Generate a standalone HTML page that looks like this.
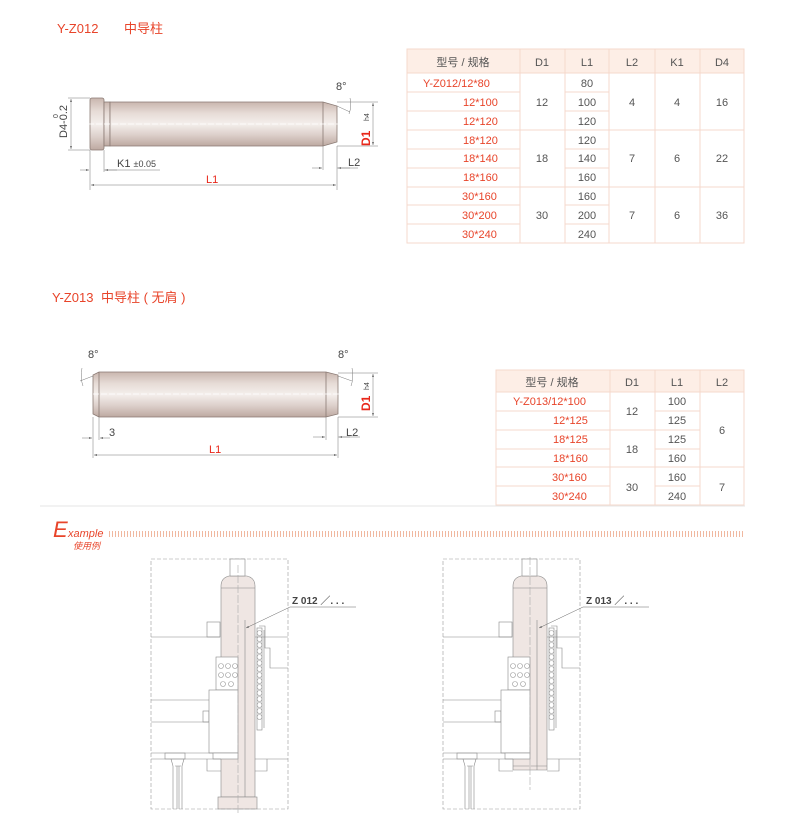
<!DOCTYPE html>
<html><head><meta charset="utf-8"><style>
body{margin:0;background:#fff;width:790px;height:832px;overflow:hidden}
text{font-family:"Liberation Sans","Noto Sans CJK SC",sans-serif}
</style></head><body>
<svg width="790" height="832" viewBox="0 0 790 832" xmlns="http://www.w3.org/2000/svg">
<defs>
<linearGradient id="pg" x1="0" y1="0" x2="0" y2="1">
<stop offset="0" stop-color="#c9b6ae"/><stop offset="0.25" stop-color="#e6dbd6"/><stop offset="0.5" stop-color="#f4efec"/><stop offset="0.75" stop-color="#dccfca"/><stop offset="1" stop-color="#bda9a1"/>
</linearGradient>
<marker id="ar" markerWidth="6" markerHeight="4" refX="6" refY="2" orient="auto-start-reverse"><path d="M0,0 L6,2 L0,4z" fill="#666"/></marker>
</defs>

<!-- Titles -->
<text x="57" y="33" font-size="13" fill="#e8442a">Y-Z012</text>
<text x="124" y="33" font-size="13" fill="#e8442a">中导柱</text>
<text x="52" y="302" font-size="13" fill="#e8442a">Y-Z013</text>
<text x="101" y="302" font-size="13" fill="#e8442a">中导柱 ( 无肩 )</text>

<!-- Pin 1 -->
<g stroke="#8a7a74" stroke-width="0.8">
<rect x="90" y="98" width="14" height="52" rx="2" fill="url(#pg)"/>
<rect x="104" y="102" width="6" height="44" fill="url(#pg)"/>
<path d="M110,102 H323 L337,106 V142 L323,146 H110z" fill="url(#pg)"/>
<line x1="323" y1="102" x2="323" y2="146"/>
</g>
<line x1="80" y1="124" x2="345" y2="124" stroke="#fff" stroke-width="0.8" stroke-dasharray="6,2"/>
<g stroke="#777" stroke-width="0.5" fill="none">
<line x1="68" y1="98" x2="90" y2="98"/><line x1="68" y1="150" x2="90" y2="150"/>
<line x1="71" y1="99" x2="71" y2="149" marker-start="url(#ar)" marker-end="url(#ar)"/>
<line x1="337" y1="102" x2="378" y2="102"/><line x1="337" y1="146" x2="378" y2="146"/>
<line x1="373" y1="103" x2="373" y2="145" marker-start="url(#ar)" marker-end="url(#ar)"/>
<line x1="337" y1="106" x2="350" y2="112"/>
<path d="M350,98 Q352,106 349,114"/>
<line x1="90" y1="150" x2="90" y2="190"/><line x1="104" y1="150" x2="104" y2="172"/>
<line x1="323" y1="146" x2="323" y2="170"/><line x1="337" y1="146" x2="337" y2="190"/>
<line x1="80" y1="170" x2="89" y2="170" marker-end="url(#ar)"/><line x1="117" y1="170" x2="105" y2="170" marker-end="url(#ar)"/><line x1="104" y1="170" x2="160" y2="170"/>
<line x1="312" y1="168" x2="322" y2="168" marker-end="url(#ar)"/><line x1="350" y1="168" x2="338" y2="168" marker-end="url(#ar)"/><line x1="337" y1="168" x2="358" y2="168"/>
<line x1="91" y1="185" x2="336" y2="185" marker-start="url(#ar)" marker-end="url(#ar)"/>
</g>
<text x="336" y="90" font-size="11" fill="#444">8°</text>
<text transform="translate(67,138) rotate(-90)" font-size="11" fill="#444">D4-0.2</text>
<text transform="translate(58,118) rotate(-90)" font-size="7" fill="#444">0</text>
<text transform="translate(370,146) rotate(-90)" font-size="12" fill="#e8271a" font-weight="bold">D1</text>
<text transform="translate(369,121) rotate(-90)" font-size="7" fill="#444">h4</text>
<text x="117" y="167" font-size="11" fill="#444">K1 <tspan font-size="9">±0.05</tspan></text>
<text x="348" y="166" font-size="11" fill="#444">L2</text>
<text x="206" y="183" font-size="11" fill="#e8271a">L1</text>

<!-- Pin 2 -->
<g stroke="#8a7a74" stroke-width="0.8">
<path d="M99,372 H326 L338,375 V414 L326,417 H99 L93,414 V375z" fill="url(#pg)"/>
<line x1="99" y1="372" x2="99" y2="417"/><line x1="326" y1="372" x2="326" y2="417"/>
</g>
<line x1="85" y1="394" x2="345" y2="394" stroke="#fff" stroke-width="0.8" stroke-dasharray="6,2"/>
<g stroke="#777" stroke-width="0.5" fill="none">
<line x1="338" y1="373" x2="378" y2="373"/><line x1="338" y1="417" x2="378" y2="417"/>
<line x1="373" y1="374" x2="373" y2="416" marker-start="url(#ar)" marker-end="url(#ar)"/>
<line x1="338" y1="376" x2="352" y2="381"/><path d="M352,368 Q354,378 351,386"/>
<line x1="93" y1="376" x2="80" y2="381"/><path d="M82,368 Q80,378 83,386"/>
<line x1="93" y1="417" x2="93" y2="458"/><line x1="99" y1="417" x2="99" y2="440"/>
<line x1="326" y1="417" x2="326" y2="440"/><line x1="338" y1="417" x2="338" y2="458"/>
<line x1="82" y1="438" x2="92" y2="438" marker-end="url(#ar)"/><line x1="110" y1="438" x2="100" y2="438" marker-end="url(#ar)"/>
<line x1="313" y1="437" x2="325" y2="437" marker-end="url(#ar)"/><line x1="350" y1="437" x2="339" y2="437" marker-end="url(#ar)"/><line x1="338" y1="437" x2="360" y2="437"/>
<line x1="94" y1="455" x2="337" y2="455" marker-start="url(#ar)" marker-end="url(#ar)"/>
</g>
<text x="88" y="358" font-size="11" fill="#444">8°</text>
<text x="338" y="358" font-size="11" fill="#444">8°</text>
<text transform="translate(370,411) rotate(-90)" font-size="12" fill="#e8271a" font-weight="bold">D1</text>
<text transform="translate(369,390) rotate(-90)" font-size="7" fill="#444">h4</text>
<text x="109" y="436" font-size="11" fill="#444">3</text>
<text x="346" y="436" font-size="11" fill="#444">L2</text>
<text x="209" y="453" font-size="11" fill="#e8271a">L1</text>

<!-- Table 1 -->
<rect x="407" y="49" width="337" height="24" fill="#fdeee6"/>
<g stroke="#f5d9cc" stroke-width="1" fill="none">
<rect x="407" y="49" width="337" height="194"/>
<line x1="407" y1="73" x2="744" y2="73"/>
<line x1="520" y1="49" x2="520" y2="243"/><line x1="565" y1="49" x2="565" y2="243"/><line x1="609" y1="49" x2="609" y2="243"/><line x1="655" y1="49" x2="655" y2="243"/><line x1="700" y1="49" x2="700" y2="243"/>
<line x1="407" y1="92" x2="520" y2="92"/><line x1="565" y1="92" x2="609" y2="92"/>
<line x1="407" y1="111" x2="520" y2="111"/><line x1="565" y1="111" x2="609" y2="111"/>
<line x1="407" y1="130" x2="744" y2="130"/>
<line x1="407" y1="149" x2="520" y2="149"/><line x1="565" y1="149" x2="609" y2="149"/>
<line x1="407" y1="168" x2="520" y2="168"/><line x1="565" y1="168" x2="609" y2="168"/>
<line x1="407" y1="187" x2="744" y2="187"/>
<line x1="407" y1="205" x2="520" y2="205"/><line x1="565" y1="205" x2="609" y2="205"/>
<line x1="407" y1="224" x2="520" y2="224"/><line x1="565" y1="224" x2="609" y2="224"/>
</g>
<g font-size="11" fill="#555" text-anchor="middle">
<text x="463" y="66">型号 / 规格</text><text x="542" y="66">D1</text><text x="587" y="66">L1</text><text x="632" y="66">L2</text><text x="677" y="66">K1</text><text x="722" y="66">D4</text>
<text x="587" y="87">80</text><text x="587" y="106">100</text><text x="587" y="125">120</text>
<text x="587" y="144">120</text><text x="587" y="162">140</text><text x="587" y="181">160</text>
<text x="587" y="200">160</text><text x="587" y="219">200</text><text x="587" y="238">240</text>
<text x="542" y="106">12</text><text x="542" y="162">18</text><text x="542" y="219">30</text>
<text x="632" y="106">4</text><text x="632" y="162">7</text><text x="632" y="219">7</text>
<text x="677" y="106">4</text><text x="677" y="162">6</text><text x="677" y="219">6</text>
<text x="722" y="106">16</text><text x="722" y="162">22</text><text x="722" y="219">36</text>
</g>
<g font-size="11" fill="#e8442a">
<text x="423" y="87">Y-Z012/12*80</text>
<text x="463" y="106">12*100</text><text x="463" y="125">12*120</text>
<text x="463" y="144">18*120</text><text x="463" y="162">18*140</text><text x="463" y="181">18*160</text>
<text x="462" y="200">30*160</text><text x="462" y="219">30*200</text><text x="462" y="238">30*240</text>
</g>

<!-- Table 2 -->
<rect x="496" y="370" width="248" height="22" fill="#fdeee6"/>
<g stroke="#f5d9cc" stroke-width="1" fill="none">
<rect x="496" y="370" width="248" height="135"/>
<line x1="496" y1="392" x2="744" y2="392"/>
<line x1="610" y1="370" x2="610" y2="505"/><line x1="655" y1="370" x2="655" y2="505"/><line x1="700" y1="370" x2="700" y2="505"/>
<line x1="496" y1="411" x2="610" y2="411"/><line x1="655" y1="411" x2="700" y2="411"/>
<line x1="496" y1="430" x2="700" y2="430"/>
<line x1="496" y1="449" x2="610" y2="449"/><line x1="655" y1="449" x2="700" y2="449"/>
<line x1="496" y1="467" x2="744" y2="467"/>
<line x1="496" y1="486" x2="610" y2="486"/><line x1="655" y1="486" x2="700" y2="486"/>
</g>
<g font-size="11" fill="#555" text-anchor="middle">
<text x="552" y="386">型号 / 规格</text><text x="632" y="386">D1</text><text x="677" y="386">L1</text><text x="722" y="386">L2</text>
<text x="677" y="405">100</text><text x="677" y="424">125</text><text x="677" y="443">125</text><text x="677" y="462">160</text><text x="677" y="481">160</text><text x="677" y="500">240</text>
<text x="632" y="415">12</text><text x="632" y="453">18</text><text x="632" y="491">30</text>
<text x="722" y="434">6</text><text x="722" y="491">7</text>
</g>
<g font-size="11" fill="#e8442a">
<text x="513" y="405">Y-Z013/12*100</text>
<text x="553" y="424">12*125</text><text x="553" y="443">18*125</text><text x="553" y="462">18*160</text>
<text x="552" y="481">30*160</text><text x="552" y="500">30*240</text>
</g>

<line x1="40" y1="506" x2="745" y2="506" stroke="#e6e6e6" stroke-width="1"/>

<!-- Example header -->
<text x="53" y="537" font-size="22" font-style="italic" fill="#e8442a">E</text>
<text x="68" y="537" font-size="11" font-style="italic" fill="#e8442a">xample</text>
<text x="73" y="549" font-size="9" font-style="italic" fill="#e8442a">使用例</text>
<line x1="109" y1="534" x2="745" y2="534" stroke="#f0b8a0" stroke-width="6" stroke-dasharray="1,2"/>

<!-- left pin -->
<g stroke="#888" stroke-width="0.6">
<path d="M221,797 V586 Q221,578 229,576 H247 Q255,578 255,586 V797z" fill="#efe6e3"/>
<line x1="221" y1="588" x2="255" y2="588"/>
<rect x="218" y="797" width="39" height="12" fill="#efe6e3"/>
<line x1="245" y1="620" x2="245" y2="797"/>
</g>
<!-- right pin -->
<g stroke="#888" stroke-width="0.6">
<path d="M513,770 V586 Q513,578 521,576 H539 Q547,578 547,586 V770z" fill="#efe6e3"/>
<line x1="513" y1="588" x2="547" y2="588"/>
<line x1="513" y1="766" x2="547" y2="766"/>
<line x1="537" y1="620" x2="537" y2="770"/>
</g>

<!-- Mold diagrams -->
<defs>
<g id="mold" fill="none" stroke="#888" stroke-width="0.6">
<rect x="151" y="559" width="137" height="250" stroke-dasharray="4,2" stroke="#999"/>
<rect x="230" y="559" width="15" height="17" fill="#fff"/>
<line x1="151" y1="637" x2="220" y2="637"/><line x1="255" y1="637" x2="288" y2="637"/>
<rect x="207" y="622" width="13" height="15"/>
<path d="M259,626 H265 V648 H270 V668 H288"/>
<line x1="151" y1="700" x2="209" y2="700"/><line x1="151" y1="722" x2="209" y2="722"/>
<rect x="203" y="711" width="6" height="11"/>
<rect x="216" y="657" width="22" height="33" fill="#fff"/>
<g stroke="#999"><circle cx="221" cy="666" r="2.5"/><circle cx="228" cy="666" r="2.5"/><circle cx="235" cy="666" r="2.5"/><circle cx="221" cy="675" r="2.5"/><circle cx="228" cy="675" r="2.5"/><circle cx="235" cy="675" r="2.5"/><circle cx="223" cy="684" r="2.5"/><circle cx="231" cy="684" r="2.5"/></g>
<rect x="209" y="690" width="29" height="63" fill="#fff"/>
<rect x="213" y="753" width="25" height="6" fill="#fff"/>
<line x1="151" y1="753" x2="213" y2="753"/>
<line x1="151" y1="759" x2="221" y2="759"/><line x1="255" y1="759" x2="288" y2="759"/>
<path d="M207,759 V771 H221 M255,771 H267 V759"/>
<path d="M165,753 H185 V759 H165z M171,759 L173,766 V809 M184,759 L182,766 V809 M175,766 H181 M177,766 V809 M179,766 V809"/>
<line x1="264" y1="630" x2="264" y2="728"/>
<rect x="257" y="628" width="5" height="102"/>
<g stroke="#999"><circle cx="259.5" cy="633" r="2.5"/><circle cx="259.5" cy="639" r="2.5"/><circle cx="259.5" cy="645" r="2.5"/><circle cx="259.5" cy="651" r="2.5"/><circle cx="259.5" cy="657" r="2.5"/><circle cx="259.5" cy="663" r="2.5"/><circle cx="259.5" cy="669" r="2.5"/><circle cx="259.5" cy="675" r="2.5"/><circle cx="259.5" cy="681" r="2.5"/><circle cx="259.5" cy="687" r="2.5"/><circle cx="259.5" cy="693" r="2.5"/><circle cx="259.5" cy="699" r="2.5"/><circle cx="259.5" cy="705" r="2.5"/><circle cx="259.5" cy="711" r="2.5"/><circle cx="259.5" cy="717" r="2.5"/></g>
</g>
</defs>
<use href="#mold"/>
<use href="#mold" transform="translate(292,0)"/>
<line x1="238" y1="565" x2="238" y2="815" stroke-dasharray="8,2" stroke="#aaa" stroke-width="0.6"/>
<line x1="530" y1="557" x2="530" y2="790" stroke-dasharray="8,2" stroke="#aaa" stroke-width="0.6"/>

<line x1="290" y1="607" x2="356" y2="607" stroke="#666" stroke-width="0.5"/>
<line x1="290" y1="607" x2="246" y2="628" stroke="#666" stroke-width="0.5" marker-end="url(#ar)"/>
<text x="292" y="604" font-size="10" fill="#444" font-weight="bold">Z 012 ／. . .</text>
<line x1="583" y1="607" x2="649" y2="607" stroke="#666" stroke-width="0.5"/>
<line x1="583" y1="607" x2="539" y2="628" stroke="#666" stroke-width="0.5" marker-end="url(#ar)"/>
<text x="586" y="604" font-size="10" fill="#444" font-weight="bold">Z 013 ／. . .</text>
</svg>
</body></html>
